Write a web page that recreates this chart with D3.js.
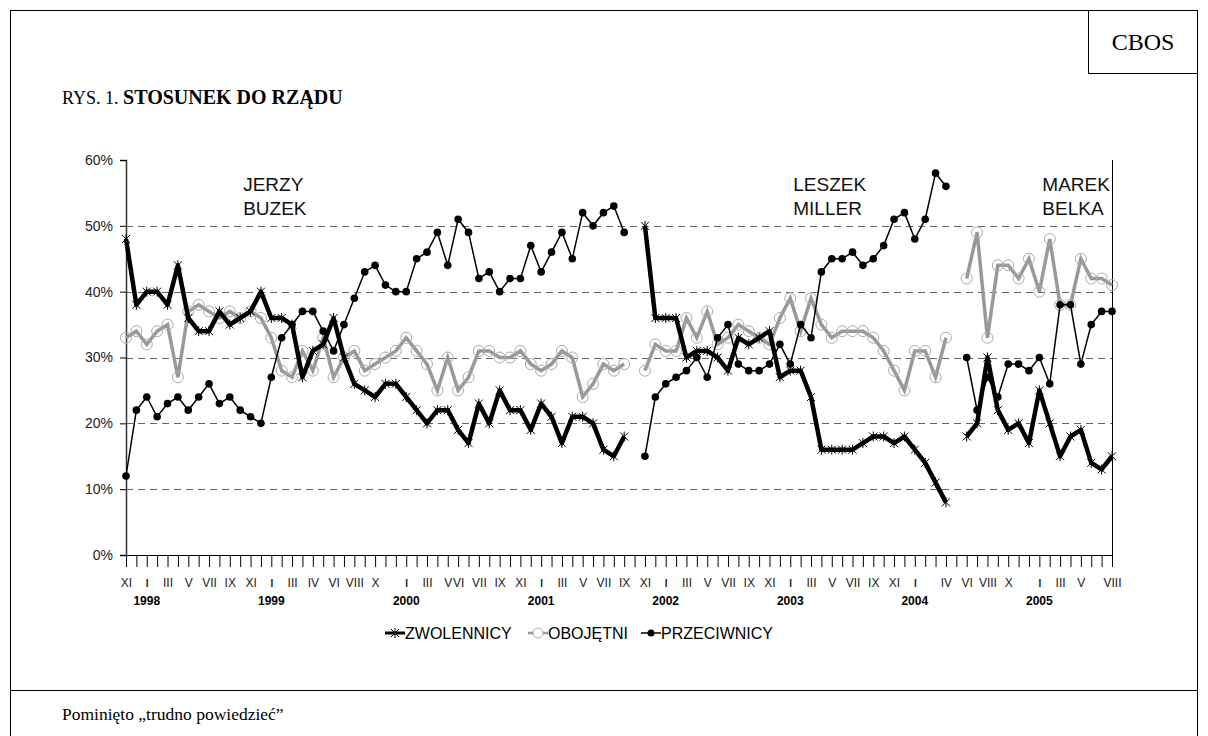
<!DOCTYPE html>
<html>
<head>
<meta charset="utf-8">
<script src="https://cdn.jsdelivr.net/npm/d3@7"></script>
<style>
  body { margin: 0; background: #fff; }
  svg text { font-family: "Liberation Sans", Arial, sans-serif; }
  .serif { font-family: "Liberation Serif", "Times New Roman", serif !important; }
</style>
</head>
<body>
<div id="container"></div>
<script>
// month labels for every survey (empty = tick without label)
var monthLabels = [
  "XI", "", "I", "", "III", "", "V", "", "VII", "", "IX", "", "XI", "",
  "I", "", "III", "", "IV", "", "VI", "", "VIII", "", "X", "", "",
  "I", "", "III", "", "V", "VI", "", "VII", "", "IX", "", "XI", "",
  "I", "", "III", "", "V", "", "VII", "", "IX", "", "XI", "",
  "I", "", "III", "", "V", "", "VII", "", "IX", "", "XI", "",
  "I", "", "III", "", "V", "", "VII", "", "IX", "", "XI", "",
  "I", "", "", "IV", "", "VI", "", "VIII", "", "X", "", "",
  "I", "", "III", "", "V", "", "", "VIII"
];
var yearLabels = ["1998", "1999", "2000", "2001", "2002", "2003", "2004", "2005"];
var yearIndex = [2, 14, 27, 40, 52, 64, 76, 88];

var zwolennicy = [
  48, 38, 40, 40, 38, 44, 36, 34, 34, 37, 35, 36, 37, 40, 36, 36, 35, 27, 31, 32,
  36, 30, 26, 25, 24, 26, 26, 24, 22, 20, 22, 22, 19, 17, 23, 20, 25, 22, 22, 19,
  23, 21, 17, 21, 21, 20, 16, 15, 18, null,
  50, 36, 36, 36, 30, 31, 31, 30, 28, 33, 32, 33, 34, 27, 28, 28, 24, 16, 16, 16,
  16, 17, 18, 18, 17, 18, 16, 14, 11, 8, null,
  18, 20, 30, 22, 19, 20, 17, 25, 20, 15, 18, 19, 14, 13, 15
];
var obojetni = [
  33, 34, 32, 34, 35, 27, 37, 38, 37, 36, 37, 36, 37, 36, 33, 28, 27, 31, 28, 33,
  27, 30, 31, 28, 29, 30, 31, 33, 31, 29, 25, 30, 25, 27, 31, 31, 30, 30, 31, 29,
  28, 29, 31, 30, 24, 26, 29, 28, 29, null,
  28, 32, 31, 31, 36, 33, 37, 32, 33, 35, 34, 33, 32, 36, 39, 34, 39, 35, 33, 34,
  34, 34, 33, 31, 28, 25, 31, 31, 27, 33, null,
  42, 49, 33, 44, 44, 42, 45, 40, 48, 38, 38, 45, 42, 42, 41
];
var przeciwnicy = [
  12, 22, 24, 21, 23, 24, 22, 24, 26, 23, 24, 22, 21, 20, 27, 33, 35, 37, 37, 34,
  31, 35, 39, 43, 44, 41, 40, 40, 45, 46, 49, 44, 51, 49, 42, 43, 40, 42, 42, 47,
  43, 46, 49, 45, 52, 50, 52, 53, 49, null,
  15, 24, 26, 27, 28, 30, 27, 33, 35, 29, 28, 28, 29, 32, 29, 35, 33, 43, 45, 45,
  46, 44, 45, 47, 51, 52, 48, 51, 58, 56, null,
  30, 22, 27, 24, 29, 29, 28, 30, 26, 38, 38, 29, 35, 37, 37
];
var seriesNames = ["ZWOLENNICY", "OBOJĘTNI", "PRZECIWNICY"];
var primeMinisters = [["JERZY", "BUZEK"], ["LESZEK", "MILLER"], ["MAREK", "BELKA"]];
var primeMinisterIndex = [11, 64, 88];

var W = 1208, H = 736;
var plotLeft = 126, plotRight = 1112, plotTop = 160, plotBottom = 555;

var svg = d3.select("#container").append("svg")
    .attr("width", W)
    .attr("height", H);

// frame
svg.append("rect")
    .attr("x", 10.5).attr("y", 10.5)
    .attr("width", 1187).attr("height", 740)
    .attr("fill", "none").attr("stroke", "#000");
svg.append("line")
    .attr("x1", 10).attr("x2", 1198)
    .attr("y1", 690.5).attr("y2", 690.5)
    .attr("stroke", "#000");
svg.append("rect")
    .attr("x", 1088.5).attr("y", 10.5)
    .attr("width", 109).attr("height", 63)
    .attr("fill", "none").attr("stroke", "#000");
svg.append("text")
    .attr("class", "serif")
    .attr("x", 1143).attr("y", 50)
    .attr("text-anchor", "middle")
    .attr("font-size", 24)
    .text("CBOS");

var title = svg.append("text")
    .attr("class", "serif")
    .attr("x", 62).attr("y", 104);
title.append("tspan").attr("font-size", 18).text("RYS. 1.  ");
title.append("tspan").attr("font-size", 20).attr("font-weight", "bold").text("STOSUNEK DO RZĄDU");

svg.append("text")
    .attr("class", "serif")
    .attr("x", 62).attr("y", 720)
    .attr("font-size", 17.5)
    .text("Pominięto „trudno powiedzieć”");

var x = d3.scalePoint()
    .domain(d3.range(monthLabels.length))
    .range([plotLeft, plotRight]);

var y = d3.scaleLinear()
    .domain([0, 0.6])
    .range([plotBottom, plotTop]);

// gridlines
svg.append("g")
    .selectAll("line")
    .data([0.1, 0.2, 0.3, 0.4, 0.5])
    .join("line")
    .attr("x1", plotLeft).attr("x2", plotRight)
    .attr("y1", d => Math.round(y(d)) + 0.5)
    .attr("y2", d => Math.round(y(d)) + 0.5)
    .attr("stroke", "#666")
    .attr("stroke-dasharray", "7,5");

// right border of plot
svg.append("line")
    .attr("x1", plotRight + 0.5).attr("x2", plotRight + 0.5)
    .attr("y1", plotTop).attr("y2", plotBottom)
    .attr("stroke", "#000");

// y-axis
var yAxis = svg.append("g")
    .attr("transform", "translate(" + plotLeft + ",0)")
    .call(d3.axisLeft(y)
        .tickValues([0, 0.1, 0.2, 0.3, 0.4, 0.5, 0.6])
        .tickFormat(d3.format(".0%"))
        .tickSize(6)
        .tickPadding(7));
yAxis.select(".domain").attr("stroke", "#333").attr("stroke-width", 1.5);
yAxis.selectAll("text").attr("font-size", 14).attr("fill", "#222");

// x-axis
var xAxis = svg.append("g")
    .attr("transform", "translate(0," + plotBottom + ")")
    .call(d3.axisBottom(x)
        .tickFormat(i => monthLabels[i])
        .tickSize(12)
        .tickPadding(11));
xAxis.select(".domain").attr("stroke", "#000");
xAxis.selectAll("text")
    .attr("font-size", d => monthLabels[d] == "I" ? 10 : 12)
    .attr("dy", d => monthLabels[d] == "I" ? "0.85em" : "0.71em")
    .attr("fill", "#222")
    .attr("font-weight", d => monthLabels[d] == "I" ? "bold" : null);

svg.append("g")
    .selectAll("text")
    .data(yearLabels)
    .join("text")
    .attr("x", (d, i) => x(yearIndex[i]))
    .attr("y", 605)
    .attr("text-anchor", "middle")
    .attr("font-size", 12)
    .attr("font-weight", "bold")
    .text(d => d);

// prime minister labels
primeMinisters.forEach((name, k) => {
    svg.append("text")
        .attr("font-size", 19)
        .attr("fill", "#111")
        .selectAll("tspan")
        .data(name)
        .join("tspan")
        .attr("x", x(primeMinisterIndex[k]) + 3)
        .attr("y", (d, i) => 191 + i * 24)
        .text(d => d);
});

var line = d3.line()
    .defined(d => d != null)
    .x((d, i) => x(i))
    .y(d => y(d / 100));

var starPath = "M-4,-4L4,4M-4,4L4,-4M0,-5L0,5";

function points(values) {
    return values.map((v, i) => ({i: i, v: v})).filter(d => d.v != null);
}

// OBOJĘTNI
svg.append("path")
    .datum(obojetni)
    .attr("d", line)
    .attr("fill", "none")
    .attr("stroke", "#999")
    .attr("stroke-width", 3.5);
svg.append("g")
    .selectAll("circle")
    .data(points(obojetni))
    .join("circle")
    .attr("cx", d => x(d.i))
    .attr("cy", d => y(d.v / 100))
    .attr("r", 5.5)
    .attr("fill", "none")
    .attr("stroke", "#aaa")
    .attr("stroke-width", 1);

// ZWOLENNICY
svg.append("path")
    .datum(zwolennicy)
    .attr("d", line)
    .attr("fill", "none")
    .attr("stroke", "#000")
    .attr("stroke-width", 4.5)
    .attr("stroke-linejoin", "round");
svg.append("g")
    .selectAll("path")
    .data(points(zwolennicy))
    .join("path")
    .attr("transform", d => "translate(" + x(d.i) + "," + y(d.v / 100) + ")")
    .attr("d", starPath)
    .attr("stroke", "#000")
    .attr("stroke-width", 1);

// PRZECIWNICY
svg.append("path")
    .datum(przeciwnicy)
    .attr("d", line)
    .attr("fill", "none")
    .attr("stroke", "#000")
    .attr("stroke-width", 1.5);
svg.append("g")
    .selectAll("circle")
    .data(points(przeciwnicy))
    .join("circle")
    .attr("cx", d => x(d.i))
    .attr("cy", d => y(d.v / 100))
    .attr("r", 3.8)
    .attr("fill", "#000");

// legend
var legendX = [385, 528, 641];
var legend = svg.append("g").attr("transform", "translate(0,633)");
seriesNames.forEach((name, k) => {
    var g = legend.append("g").attr("transform", "translate(" + legendX[k] + ",0)");
    g.append("line")
        .attr("x1", 0).attr("x2", 20)
        .attr("stroke", k == 1 ? "#999" : "#000")
        .attr("stroke-width", k == 0 ? 3 : (k == 1 ? 2.5 : 1.5));
    if (k == 0) {
        g.append("path").attr("transform", "translate(10,0)").attr("d", starPath).attr("stroke", "#000");
    } else if (k == 1) {
        g.append("circle").attr("cx", 10).attr("r", 5).attr("fill", "#fff").attr("stroke", "#aaa");
    } else {
        g.append("circle").attr("cx", 10).attr("r", 3.5).attr("fill", "#000");
    }
    g.append("text")
        .attr("x", 20).attr("y", 6)
        .attr("font-size", 16)
        .text(name);
});
</script>
</body>
</html>
